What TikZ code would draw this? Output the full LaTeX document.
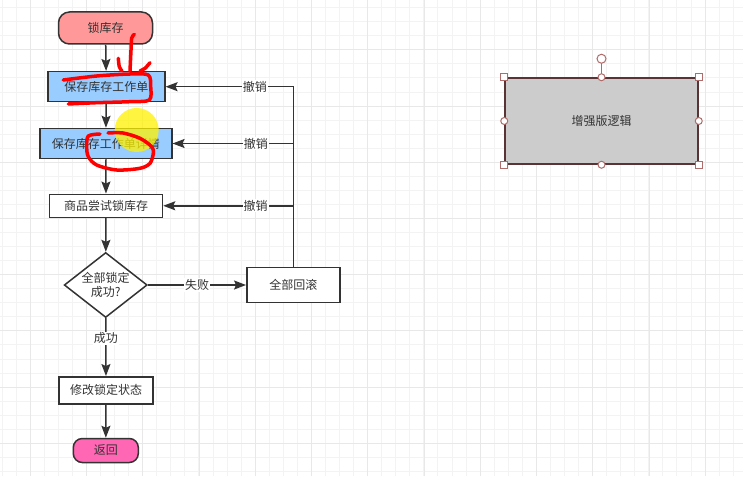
\documentclass[tikz,border=0pt]{standalone}
\usepackage{fontspec}
\setmainfont{Noto Sans CJK SC}
\usetikzlibrary{arrows.meta,shapes.geometric}
\definecolor{linegray}{HTML}{333333}
\definecolor{gridminor}{HTML}{F3F3F3}
\definecolor{gridmajor}{HTML}{E8E8E8}
\definecolor{lockpink}{HTML}{FF9999}
\definecolor{sheetblue}{HTML}{99CCFF}
\definecolor{backpink}{HTML}{FF66B3}
\definecolor{boxgray}{HTML}{CCCCCC}
\definecolor{boxedge}{HTML}{5A3434}
\definecolor{handle}{HTML}{B06B6B}
\tikzset{%
	startstop/.style= {draw=linegray, line width=1.5pt, rectangle, rounded corners=11pt, text=linegray, text centered},
	process/.style  = {draw=linegray, line width=1.5pt, rectangle, fill=white, text=linegray, text centered},
	decision/.style = {draw=linegray, line width=1.5pt, diamond, aspect=1.27, inner sep=0pt, fill=white, text=linegray, align=center, minimum width=83pt, minimum height=65pt},
	arrow/.style    = {line width=1.5pt, draw=linegray, -{Stealth[length=12pt,width=9pt,inset=2pt]}},
	edgelabel/.style= {fill=white, inner sep=1pt, text=linegray},
	scribble/.style = {draw=red, line width=3.5pt, line cap=round, line join=round},
}

\begin{document}
\begin{tikzpicture}[x=1pt, y=-1pt, font=\fontsize{12}{14}\selectfont]
	\useasboundingbox (0,0) rectangle (743,476);
	\fill[white] (0,0) rectangle (743,476);
	% grid
	\foreach \i in {0,...,52} \draw[gridminor, line width=1pt] ({2.1+14.06*\i},0) -- ({2.1+14.06*\i},476);
	\foreach \i in {0,...,33} \draw[gridminor, line width=1pt] (0,{7.75+14.05*\i}) -- (743,{7.75+14.05*\i});
	\foreach \i in {0,...,12} \draw[gridmajor, line width=1pt] ({30.25+56.25*\i},0) -- ({30.25+56.25*\i},476);
	\foreach \i in {0,...,7} \draw[gridmajor, line width=1pt] (0,{49.9+56.2*\i}) -- (743,{49.9+56.2*\i});
	
	% flow
	\node[startstop, fill=lockpink, minimum width=94pt, minimum height=32pt] (lock) at (105.5,28) {锁库存};
	\node[process, fill=sheetblue, minimum width=117pt, minimum height=30pt] (sheet) at (106.3,86.7) {保存库存工作单};
	\node[process, fill=sheetblue, minimum width=132pt, minimum height=30pt] (detail) at (105.8,143.5) {保存库存工作单详情};
	\node[process, minimum width=113pt, minimum height=23pt] (trylock) at (106,205.8) {商品尝试锁库存};
	\node[decision] (check) at (105.7,285) {全部锁定\\成功?};
	\node[process, minimum width=93pt, minimum height=35pt] (rollback) at (293.3,285) {全部回滚};
	\node[process, minimum width=94pt, minimum height=27pt] (modify) at (106,390.3) {修改锁定状态};
	\node[startstop, fill=backpink, rounded corners=9pt, minimum width=65pt, minimum height=24pt] (back) at (105.8,450.5) {返回};
	
	\draw[arrow] (lock) -- (sheet);
	\draw[arrow] (sheet) -- (detail);
	\draw[arrow] (detail) -- (trylock);
	\draw[arrow] (trylock) -- (check);
	\draw[arrow] (check) -- node[edgelabel, pos=0.35] {成功} (modify);
	\draw[arrow] (check) -- node[edgelabel] {失败} (rollback);
	\draw[arrow] (modify) -- (back);
	\draw[arrow] (rollback.north) |- node[edgelabel, pos=0.65] {撤销} (sheet.east);
	\draw[arrow] (rollback.north |- detail.east) -- node[edgelabel, pos=0.31] {撤销} (detail.east);
	\draw[arrow] (rollback.north |- trylock.east) -- node[edgelabel, pos=0.29] {撤销} (trylock.east);
	
	% selected shape
	\node[draw=boxedge, line width=1.5pt, fill=boxgray, text=linegray, minimum width=193pt, minimum height=86pt] (enhanced) at (601.5,121) {增强版逻辑};
	\draw[handle, line width=1pt] (enhanced.north) -- ++(0,-14);
	\draw[handle, line width=1pt, fill=white] ([yshift=18.5pt]enhanced.north) circle (4.5pt);
	\foreach \a in {north west,north east,south west,south east}
		\draw[handle, line width=1pt, fill=white] ([shift={(-3.5pt,-3.5pt)}]enhanced.\a) rectangle ++(7,-7);
	\foreach \a in {north,south,east,west}
		\draw[handle, line width=1pt, fill=white] (enhanced.\a) circle (3.5pt);
	
	% marks
	\fill[yellow, opacity=0.75] (136.7,130) circle (22pt);
	\draw[scribble] plot[smooth] coordinates {(134.3,34.3) (131.7,38) (131,50) (130,71)};
	\draw[scribble] plot[smooth] coordinates {(118.3,58.3) (119.3,66.7) (122,71)};
	\draw[scribble] plot[smooth] coordinates {(150,62.7) (145,68.3) (140,71)};
	\draw[scribble] plot[smooth] coordinates {(63.3,80) (96.7,76) (130,74) (148.3,75) (150.7,86.7) (149.3,100) (130,101.7) (96.7,102.7) (68.3,104)};
	\draw[scribble] plot[smooth] coordinates {(100,134) (88.3,136) (86.7,146.7) (88.3,156.7) (96.7,165) (116.7,170) (140,168.3) (150,163.3) (153.3,153.3) (151.7,146.7) (140,138.3) (123,133) (108,133)};
\end{tikzpicture}
\end{document}
